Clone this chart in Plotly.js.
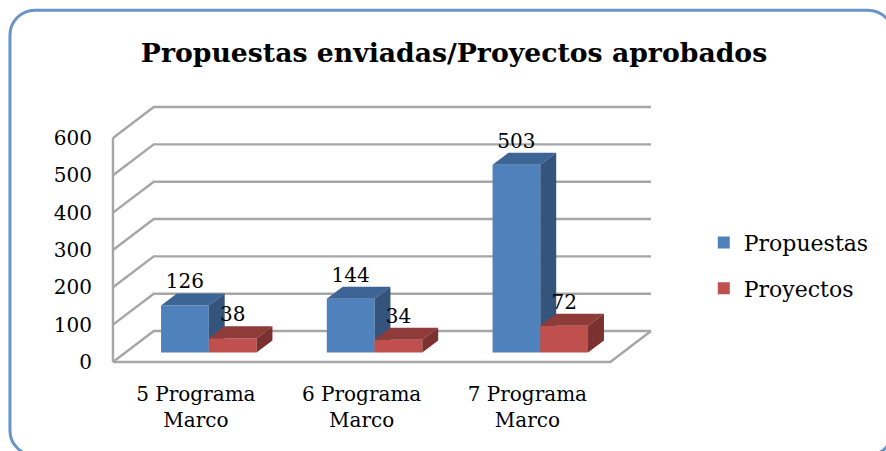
<!DOCTYPE html>
<html><head><meta charset="utf-8">
<script src="https://cdn.plot.ly/plotly-3.0.1.min.js"></script>
<style>html,body{margin:0;padding:0;background:#fff}#c{width:886px;height:451px}</style></head>
<body><div id="c"></div>
<script>
const categories = ["5 Programa<br>Marco", "6 Programa<br>Marco", "7 Programa<br>Marco"];
const propuestas = [126, 144, 503];
const proyectos = [38, 34, 72];
const yTicks = [0, 100, 200, 300, 400, 500, 600];

const FONT = "'DejaVu Serif', serif";
const W = 886, H = 451, PAD = 4;
const L = 112.5 - PAD, R = 653 + PAD, T = 107 - PAD, B = 362.5 + PAD;
const pxX = 500 / 3;                 // pixels per category on the front edge
const pxY = 224.5 / 600;             // pixels per value unit on the front edge
const wallDX = 41 / pxX, wallDY = 31 / pxY;
const insetDX = 13 / pxX, insetDY = 9.5 / pxY;
const barDX = 16 / pxX, barDY = 12 / pxY;
const barW = 48 / pxX;
const xRange = [-0.5 - PAD / pxX, 2.5 + wallDX + PAD / pxX], yRange = [-PAD / pxY, 600 + wallDY + PAD / pxY];
const centers = categories.map((_, i) => i);

function polys(list) {
  const x = [], y = [];
  list.forEach(p => { p.forEach(q => { x.push(q[0]); y.push(q[1]); }); x.push(null); y.push(null); });
  return {x, y};
}
function face(values, off, kind, color, ax) {
  const list = values.map((v, i) => {
    const x0 = i + insetDX + off, x1 = x0 + barW, b = insetDY, t = insetDY + v;
    return kind === 'top'
      ? [[x0, t], [x1, t], [x1 + barDX, t + barDY], [x0 + barDX, t + barDY], [x0, t]]
      : [[x1, b], [x1, t], [x1 + barDX, t + barDY], [x1 + barDX, b + barDY], [x1, b]];
  });
  const p = polys(list);
  return {type: 'scatter', mode: 'lines', x: p.x, y: p.y, fill: 'toself', fillcolor: color,
    line: {width: 0, color: color}, hoverinfo: 'skip', showlegend: false, xaxis: ax[0], yaxis: ax[1]};
}
function bars(name, values, off, color, ax, group) {
  return {type: 'bar', name: name, legendgroup: group,
    x: values.map((_, i) => i + insetDX + off + barW / 2), y: values,
    base: values.map(() => insetDY), width: barW, marker: {color: color, line: {width: 0}},
    hoverinfo: 'skip', xaxis: ax[0], yaxis: ax[1]};
}
const GRID = '#a6a6a6';
const wallLines = [];
yTicks.forEach(t => {
  wallLines.push([-0.5, t], [-0.5 + wallDX, t + wallDY], [2.5 + wallDX, t + wallDY], [null, null]);
});
wallLines.push([-0.5, 0], [-0.5, 600], [null, null]);
wallLines.push([-0.5, 0], [2.5, 0], [2.5 + wallDX, wallDY]);
const walls = {type: 'scatter', mode: 'lines', x: wallLines.map(p => p[0]), y: wallLines.map(p => p[1]),
  line: {color: GRID, width: 2.4}, connectgaps: false, hoverinfo: 'skip', showlegend: false};

const a2 = ['x2', 'y2'], a3 = ['x3', 'y3'];
const labelBlue = {type: 'scatter', mode: 'text', xaxis: 'x3', yaxis: 'y3', cliponaxis: false, showlegend: false, hoverinfo: 'skip',
  x: propuestas.map((_, i) => i + insetDX - barW / 2), y: propuestas.map(v => v + insetDY + barDY),
  text: propuestas.map(String), textposition: 'top center', textfont: {family: FONT, size: 20, color: '#000'}};
const labelRed = Object.assign({}, labelBlue, {
  x: proyectos.map((_, i) => i + insetDX + barW / 2), y: proyectos.map(v => v + insetDY + barDY),
  text: proyectos.map(String)});

const data = [
  walls,
  bars('Propuestas', propuestas, -barW, '#4f81bd', a2, 'a'),
  face(propuestas, -barW, 'top', '#3c6494', a2),
  face(propuestas, -barW, 'side', '#35547c', a2),
  bars('Proyectos', proyectos, 0, '#c0504d', a3, 'b'),
  face(proyectos, 0, 'top', '#8f3b39', a3),
  face(proyectos, 0, 'side', '#7b312f', a3),
  labelBlue, labelRed
];
const hidden = (over) => ({overlaying: over, visible: false, fixedrange: true});
const px = v => (v - L) / (R - L), py = v => (B - v) / (B - T);
const bx0 = 9, bx1 = 896, by0 = 10, by1 = 456, r = 25, k = 0.45 * r;
const pt = (x, y) => `${px(x)} ${py(y)}`;
const border = `M ${pt(bx0, by0 + r)} C ${pt(bx0, by0 + k)} ${pt(bx0 + k, by0)} ${pt(bx0 + r, by0)} L ${pt(bx1 - r, by0)} C ${pt(bx1 - k, by0)} ${pt(bx1, by0 + k)} ${pt(bx1, by0 + r)} L ${pt(bx1, by1 - r)} C ${pt(bx1, by1 - k)} ${pt(bx1 - k, by1)} ${pt(bx1 - r, by1)} L ${pt(bx0 + r, by1)} C ${pt(bx0 + k, by1)} ${pt(bx0, by1 - k)} ${pt(bx0, by1 - r)} Z`;

const layout = {
  width: W, height: H, paper_bgcolor: '#fff', plot_bgcolor: 'rgba(0,0,0,0)',
  margin: {l: L, r: W - R, t: T, b: H - B},
  barmode: 'overlay', showlegend: true,
  title: {text: '<b>Propuestas enviadas/Proyectos aprobados</b>', font: {family: FONT, size: 26.7, color: '#000'},
    x: 454 / W, xanchor: 'center', y: 1 - 53 / H, yanchor: 'middle'},
  font: {family: FONT, size: 20, color: '#000'},
  xaxis: {range: xRange, tickmode: 'array', tickvals: centers, ticktext: categories, showgrid: false, zeroline: false,
    showline: false, ticks: 'outside', ticklen: 10, tickcolor: 'rgba(0,0,0,0)', tickfont: {family: FONT, size: 20}, fixedrange: true},
  yaxis: {range: yRange, tickmode: 'array', tickvals: yTicks, showgrid: false, zeroline: false,
    showline: false, ticks: 'outside', ticklen: 12, tickcolor: 'rgba(0,0,0,0)', tickfont: {family: FONT, size: 20}, fixedrange: true},
  xaxis2: Object.assign({range: xRange}, hidden('x')),
  yaxis2: Object.assign({range: yRange}, hidden('y')),
  xaxis3: Object.assign({range: xRange}, hidden('x')),
  yaxis3: Object.assign({range: yRange}, hidden('y')),
  legend: {x: px(706), xanchor: 'left', y: py(222), yanchor: 'top', bgcolor: 'rgba(0,0,0,0)',
    traceorder: 'grouped', tracegroupgap: 14, font: {family: FONT, size: 22, color: '#000'}},
  shapes: [{type: 'path', xref: 'paper', yref: 'paper', path: border, line: {color: '#6a94c8', width: 3}, fillcolor: 'rgba(0,0,0,0)', layer: 'below'}]
};
Plotly.newPlot('c', data, layout, {displayModeBar: false, staticPlot: true});
</script></body></html>
